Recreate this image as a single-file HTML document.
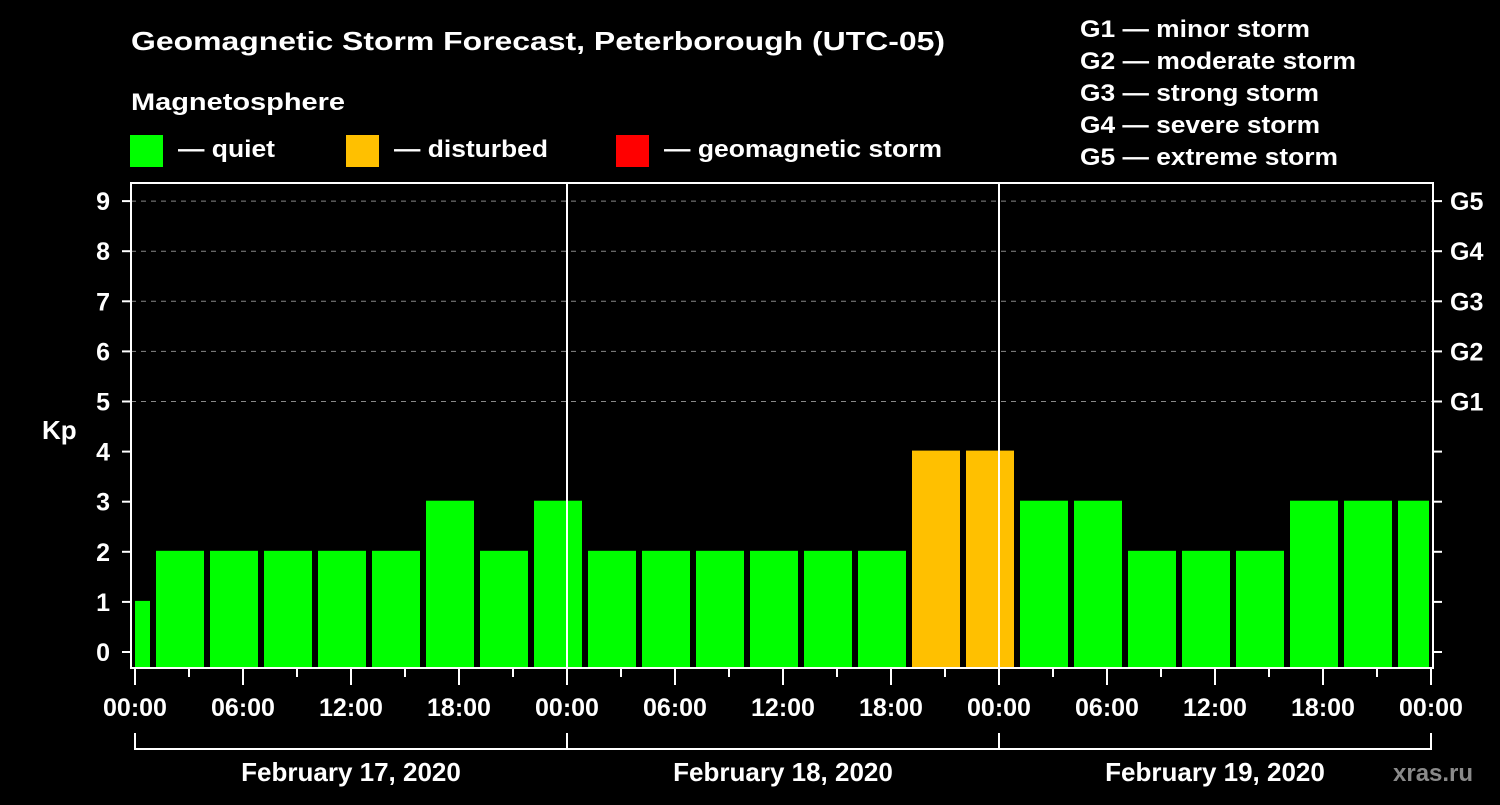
<!DOCTYPE html>
<html><head><meta charset="utf-8"><style>
body{margin:0;background:#000;width:1500px;height:800px;overflow:hidden}
svg text{font-family:"Liberation Sans",Arial,sans-serif;font-weight:bold;fill:#fff}
</style></head><body>
<svg id="chart" width="1500" height="800" viewBox="0 0 1500 800" xmlns="http://www.w3.org/2000/svg">
<rect width="1500" height="800" fill="#000"/>
<text x="131" y="50" font-size="26" textLength="814" lengthAdjust="spacingAndGlyphs">Geomagnetic Storm Forecast, Peterborough (UTC-05)</text>
<text x="131" y="110" font-size="24" textLength="214" lengthAdjust="spacingAndGlyphs">Magnetosphere</text>
<g><rect x="130" y="135" width="33" height="32" fill="#00ff00"/><text x="178" y="157" font-size="24" textLength="97" lengthAdjust="spacingAndGlyphs">— quiet</text></g>
<g><rect x="346" y="135" width="33" height="32" fill="#ffc000"/><text x="394" y="157" font-size="24" textLength="154" lengthAdjust="spacingAndGlyphs">— disturbed</text></g>
<g><rect x="616" y="135" width="33" height="32" fill="#ff0000"/><text x="664" y="157" font-size="24" textLength="278" lengthAdjust="spacingAndGlyphs">— geomagnetic storm</text></g>
<g font-size="24">
<text x="1080" y="37" textLength="230" lengthAdjust="spacingAndGlyphs">G1 — minor storm</text>
<text x="1080" y="69" textLength="276" lengthAdjust="spacingAndGlyphs">G2 — moderate storm</text>
<text x="1080" y="101" textLength="239" lengthAdjust="spacingAndGlyphs">G3 — strong storm</text>
<text x="1080" y="133" textLength="240" lengthAdjust="spacingAndGlyphs">G4 — severe storm</text>
<text x="1080" y="165" textLength="258" lengthAdjust="spacingAndGlyphs">G5 — extreme storm</text>
</g>
<text x="42" y="439" font-size="26">Kp</text>
<g id="grid"></g><g id="bars"></g><g id="axes"></g>
<text x="1393" y="781" font-size="24" fill="#888" style="fill:#8a8a8a">xras.ru</text>
</svg>
<script>
const kpValues=[1,2,2,2,2,2,3,2,3,2,2,2,2,2,2,4,4,3,3,2,2,2,3,3,3];
const startHours=[-2,1,4,7,10,13,16,19,22,25,28,31,34,37,40,43,46,49,52,55,58,61,64,67,70];
const yTicks=[0,1,2,3,4,5,6,7,8,9];
const gLabels=["G1","G2","G3","G4","G5"];
const gLevels=[5,6,7,8,9];
const xTickLabels=["00:00","06:00","12:00","18:00","00:00","06:00","12:00","18:00","00:00","06:00","12:00","18:00","00:00"];
const dayLabels=["February 17, 2020","February 18, 2020","February 19, 2020"];
const NS="http://www.w3.org/2000/svg";
const X0=135,HPX=18,L=131,R=1433,T=183,B=668;
const x=h=>X0+h*HPX;
const y=v=>652-v*50.1;
function mk(tag,attrs,parent,txt){const e=document.createElementNS(NS,tag);for(const k in attrs)e.setAttribute(k,attrs[k]);if(txt!==undefined)e.textContent=txt;document.getElementById(parent).appendChild(e);return e;}
yTicks.forEach(v=>{
 if(v>=5){const g=mk('line',{x1:L,x2:R,y1:y(v),y2:y(v),stroke:'#888','stroke-width':1,'stroke-dasharray':'5,5'},'grid');
 
 }
});
kpValues.forEach((v,i)=>{
 let x1=Math.max(x(startHours[i])+3,L+4),x2=Math.min(x(startHours[i]+3)-3,R-4);
 const r=mk('rect',{x:x1,y:y(v)-1,width:x2-x1,height:B-(y(v)-1),fill:v>=5?'#ff0000':v>=4?'#ffc000':'#00ff00'},'bars');
 
 
});
[x(24),x(48)].forEach(px=>{const l=mk('line',{x1:px,x2:px,y1:T,y2:B,stroke:'#fff','stroke-width':2},'axes');
 
 });
const fr=mk('rect',{x:L,y:T,width:R-L,height:B-T,fill:'none',stroke:'#fff','stroke-width':2},'axes');


yTicks.forEach(v=>{
 mk('line',{x1:122,x2:L,y1:y(v),y2:y(v),stroke:'#fff','stroke-width':2},'axes');
 mk('line',{x1:R,x2:1442,y1:y(v),y2:y(v),stroke:'#fff','stroke-width':2},'axes');
 const t=mk('text',{x:110,y:y(v)+9,'font-size':25,'text-anchor':'end'},'axes',String(v));
 
 
});
gLabels.forEach((g,i)=>{const t=mk('text',{x:1450,y:y(gLevels[i])+9,'font-size':25},'axes',g);
 
 });
for(let h=0;h<=72;h+=3){const major=h%6===0;mk('line',{x1:x(h),x2:x(h),y1:B,y2:major?685:677,stroke:'#fff','stroke-width':2},'axes');}
xTickLabels.forEach((s,i)=>{const t=mk('text',{x:x(i*6),y:716,'font-size':25,'text-anchor':'middle'},'axes',s);
 
 });
mk('line',{x1:x(0),x2:x(72),y1:749,y2:749,stroke:'#fff','stroke-width':2},'axes');
[0,24,48,72].forEach(h=>mk('line',{x1:x(h),x2:x(h),y1:733,y2:750,stroke:'#fff','stroke-width':2},'axes'));
dayLabels.forEach((d,i)=>{const t=mk('text',{x:x(i*24+12),y:781,'font-size':26,'text-anchor':'middle'},'axes',d);
 
 });
</script>
</body></html>
